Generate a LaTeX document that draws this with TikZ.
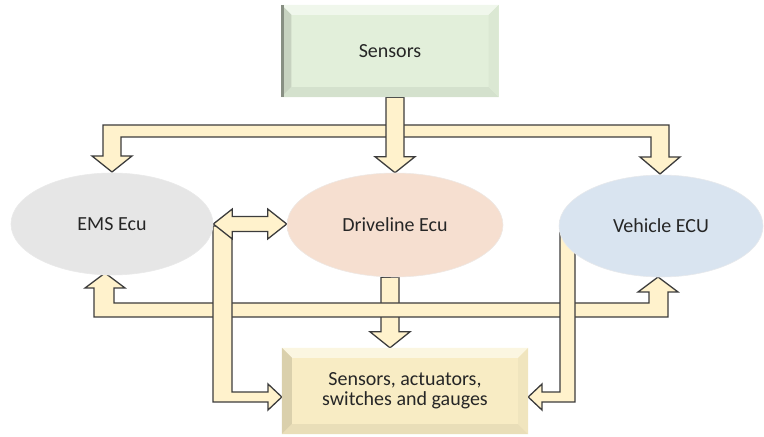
\documentclass[tikz,border=0pt]{standalone}
\usepackage{fontspec}
\setmainfont{Carlito}
\usetikzlibrary{calc,shapes.geometric,backgrounds}

\definecolor{arrowfill}{HTML}{FFF2CC}
\definecolor{arrowline}{HTML}{3C3C3C}
\definecolor{sensgreen}{HTML}{E2EFDA}
\definecolor{actyellow}{HTML}{F8ECC4}
\definecolor{emsgray}{HTML}{E6E6E6}
\definecolor{drivepeach}{HTML}{F6DFD0}
\definecolor{vehblue}{HTML}{D9E4F0}
\definecolor{txt}{HTML}{262626}

\pgfdeclareradialshading{emsshade}{\pgfpoint{0bp}{0bp}}{color(0bp)=(emsgray); color(38bp)=(emsgray); color(50bp)=(emsgray!35!white); color(100bp)=(white)}
\pgfdeclareradialshading{driveshade}{\pgfpoint{0bp}{0bp}}{color(0bp)=(drivepeach); color(38bp)=(drivepeach); color(50bp)=(drivepeach!35!white); color(100bp)=(white)}
\pgfdeclareradialshading{vehshade}{\pgfpoint{0bp}{0bp}}{color(0bp)=(vehblue); color(38bp)=(vehblue); color(50bp)=(vehblue!35!white); color(100bp)=(white)}

\tikzset{
  lbl/.style={font=\fontsize{20bp}{20bp}\selectfont, text=txt, align=center, inner sep=0pt},
  ecu/.style={lbl, ellipse, draw=#1!80!black!30!white, line width=0.6bp},
  panel/.style={lbl, rectangle},
  blockarrow/.style={fill=arrowfill, draw=arrowline, line width=1.3bp, line join=miter}
}

% block arrow pointing down, shaft starts at the level of #1, tip at #2
\newcommand{\blkdown}[2]{\draw[blockarrow] let \p1=(#1), \p2=(#2) in
  (\x2-9bp,\y1) -- (\x2-9bp,\y2+16bp) -- (\x2-20bp,\y2+16bp) -- (\x2,\y2)
  -- (\x2+20bp,\y2+16bp) -- (\x2+9bp,\y2+16bp) -- (\x2+9bp,\y1) -- cycle;}

% four bevel bands round a box
\newcommand{\bevel}[5]{%
  \fill[#2] let \p1=(#1.north west), \p2=(#1.south east) in
    (\x1,\y1) -- (\x2,\y1) -- (\x2-10bp,\y1-10bp) -- (\x1+10bp,\y1-10bp) -- cycle;
  \fill[#3] let \p1=(#1.north west), \p2=(#1.south east) in
    (\x1,\y1) -- (\x1+10bp,\y1-10bp) -- (\x1+10bp,\y2+10bp) -- (\x1,\y2) -- cycle;
  \fill[#4] let \p1=(#1.north west), \p2=(#1.south east) in
    (\x1,\y2) -- (\x2,\y2) -- (\x2-10bp,\y2+10bp) -- (\x1+10bp,\y2+10bp) -- cycle;
  \fill[#5] let \p1=(#1.north west), \p2=(#1.south east) in
    (\x2,\y1) -- (\x2-10bp,\y1-10bp) -- (\x2-10bp,\y2+10bp) -- (\x2,\y2) -- cycle;}

\begin{document}
\begin{tikzpicture}[x=1bp,y=-1bp]
  \useasboundingbox (0,0) rectangle (764,437);

  % boxes
  \node[panel, fill=sensgreen, minimum width=217bp, minimum height=92bp] (sensors) at (390,51) {};
  \bevel{sensors}{sensgreen!50!white}{sensgreen!88!black}{sensgreen!94!black}{sensgreen!97!black}
  \node[lbl] at (sensors) {Sensors};
  \fill[sensgreen!60!black] (sensors.north west) rectangle ++(3,92);

  \node[panel, fill=actyellow, minimum width=246bp, minimum height=86bp] (act) at (405,391) {};
  \bevel{act}{actyellow!50!white}{actyellow!88!black}{actyellow!94!black}{actyellow!97!black}
  \node[lbl] at (act) {Sensors, actuators,\\switches and gauges};

  % ECUs
  \node[ecu=emsgray, shading=emsshade, minimum width=202bp, minimum height=102bp] (ems) at (112,224) {EMS Ecu};
  \node[ecu=drivepeach, shading=driveshade, minimum width=216bp, minimum height=104bp] (drive) at (395,225) {Driveline Ecu};
  \node[ecu=vehblue, shading=vehshade, minimum width=204bp, minimum height=102bp] (veh) at (661,226) {Vehicle ECU};

  \begin{scope}[on background layer]
    % top bus
    \draw[blockarrow] (103,125) -- (669,125) -- (669,157) -- (680,157) -- (660,174)
      -- (640,157) -- (651,157) -- (651,137) -- (121,137) -- (121,156) -- (132,156)
      -- (112,172) -- (92,156) -- (103,156) -- cycle;
    \blkdown{sensors.south}{drive.north}
    \blkdown{drive.south}{$(act.north)+(-15,0)$}
    % bottom bus
    \draw[blockarrow] (94,317) -- (94,288) -- (85,288) -- (105,273) -- (125,288)
      -- (114,288) -- (114,303) -- (649,303) -- (649,292) -- (638,292) -- (658,277)
      -- (678,292) -- (668,292) -- (668,317) -- cycle;
    % feeds into the bottom box
    \draw[blockarrow] (213,226) -- (213,402) -- (268,402) -- (268,410) -- (act.west |- 0,397)
      -- (268,384) -- (268,392) -- (232,392) -- (232,226) -- cycle;
    \draw[blockarrow] (575,229) -- (575,402) -- (542,402) -- (542,410) -- (act.east |- 0,397)
      -- (542,384) -- (542,392) -- (560,392) -- (560,229) -- cycle;
    % EMS <-> Driveline
    \draw[blockarrow] let \p1=(ems.east), \p2=(drive.west) in
      (\x1,\y1) -- (\x1+19bp,\y1+15bp) -- (\x1+19bp,\y1+7.5bp) -- (\x2-19bp,\y1+7.5bp)
      -- (\x2-19bp,\y1+15bp) -- (\x2,\y1) -- (\x2-19bp,\y1-15bp) -- (\x2-19bp,\y1-7.5bp)
      -- (\x1+19bp,\y1-7.5bp) -- (\x1+19bp,\y1-15bp) -- cycle;
  \end{scope}
\end{tikzpicture}
\end{document}
